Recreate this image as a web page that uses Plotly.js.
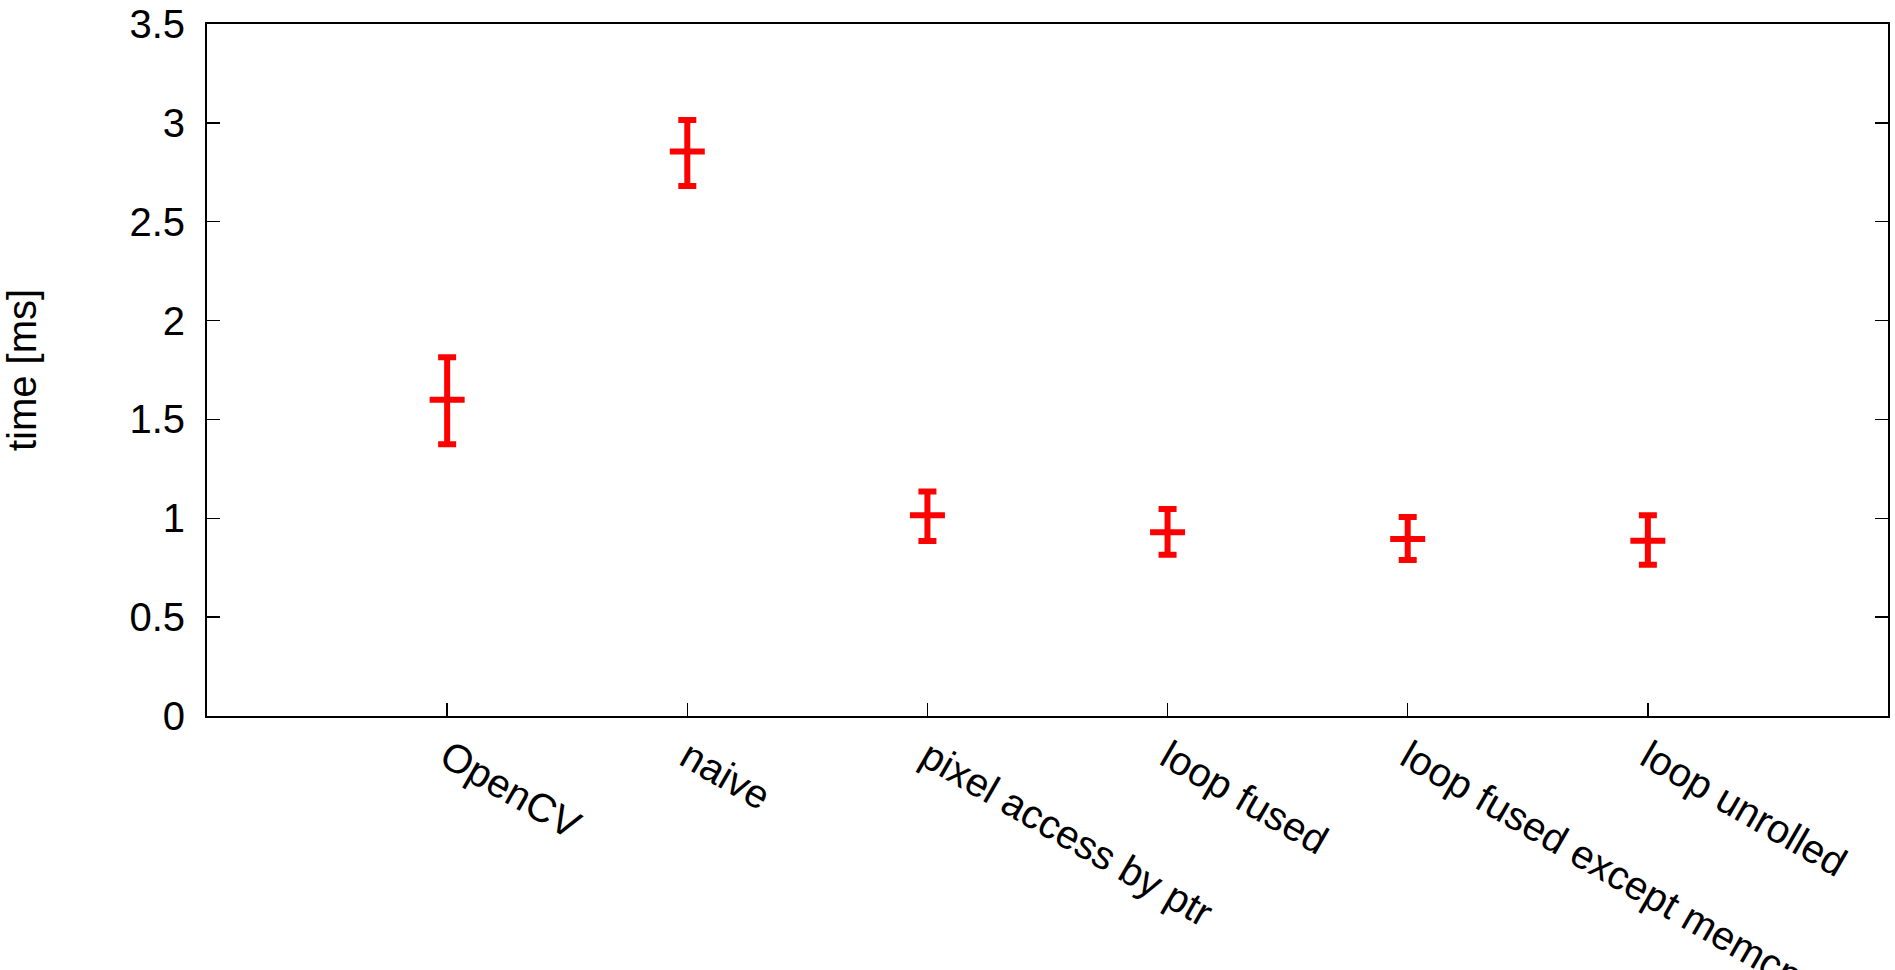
<!DOCTYPE html>
<html>
<head>
<meta charset="utf-8">
<script src="https://cdn.plot.ly/plotly-3.0.1.min.js"></script>
<style>html,body{margin:0;padding:0;background:#fff;}#chart{width:1895px;height:970px;}</style>
</head>
<body>
<div id="chart"></div>
<script>
const categories = ["OpenCV", "naive", "pixel access by ptr", "loop fused", "loop fused except memcpy", "loop unrolled"];
const meanTime = [1.60, 2.855, 1.015, 0.93, 0.895, 0.887];
const upperTime = [1.815, 3.015, 1.135, 1.047, 1.007, 1.015];
const lowerTime = [1.375, 2.681, 0.885, 0.816, 0.789, 0.765];
const yTickVals = [0, 0.5, 1, 1.5, 2, 2.5, 3, 3.5];
const yTickText = ["0", "0.5", "1", "1.5", "2", "2.5", "3", "3.5"];

const errPlus = meanTime.map((m, i) => upperTime[i] - m);
const errMinus = meanTime.map((m, i) => m - lowerTime[i]);

const trace = {
  type: "scatter",
  mode: "markers",
  x: categories,
  y: meanTime,
  marker: {symbol: "line-ew", size: 25, color: "#ff0000", line: {color: "#ff0000", width: 6}},
  error_y: {type: "data", symmetric: false, array: errPlus, arrayminus: errMinus, color: "#ff0000", thickness: 6, width: 9},
  showlegend: false,
  cliponaxis: false
};

const fontFam = "Liberation Sans, Arial, sans-serif";
const layout = {
  width: 1895, height: 970,
  margin: {l: 207, r: 7, t: 24, b: 254, pad: 0},
  paper_bgcolor: "#fff", plot_bgcolor: "#fff",
  font: {family: fontFam, size: 40, color: "#000"},
  xaxis: {
    type: "category", range: [-1, 6],
    showgrid: false, zeroline: false,
    showline: true, linecolor: "#000", linewidth: 2, mirror: true,
    ticks: "inside", ticklen: 13, tickwidth: 1.5, tickcolor: "#000",
    tickangle: 30, tickfont: {family: fontFam, size: 40, color: "#000"},
    automargin: false
  },
  yaxis: {
    range: [0, 3.5], tickvals: yTickVals, ticktext: yTickText,
    showgrid: false, zeroline: false,
    showline: true, linecolor: "#000", linewidth: 2, mirror: "ticks",
    ticks: "inside", ticklen: 13, tickwidth: 1.5, tickcolor: "#000",
    ticklabelstandoff: 12,
    tickfont: {family: fontFam, size: 40, color: "#000"},
    title: {text: "time [ms]", font: {family: fontFam, size: 40, color: "#000"}, standoff: 80},
    automargin: false
  }
};

Plotly.newPlot("chart", [trace], layout, {displayModeBar: false, staticPlot: true});
</script>
</body>
</html>
